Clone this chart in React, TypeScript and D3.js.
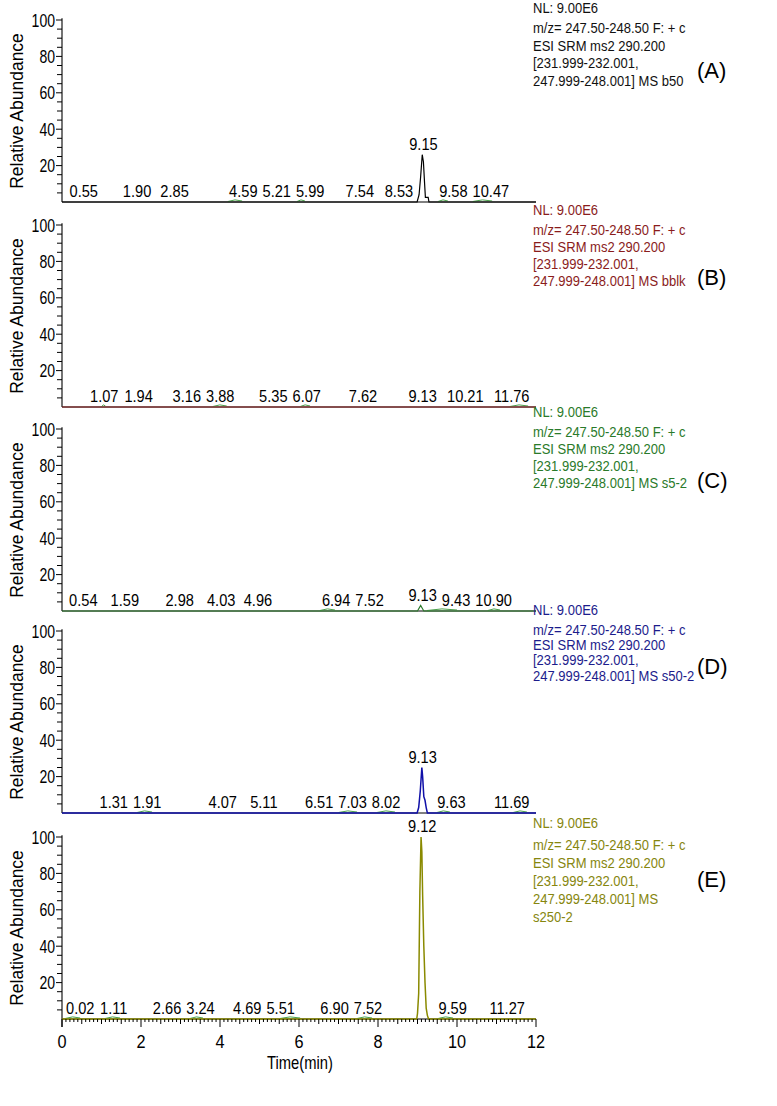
import React from 'react';
import * as d3 from 'd3';

const W = 777;
const H = 1106;

// ---- data ----
const timeTicks = [0, 2, 4, 6, 8, 10, 12];
const abundanceTicks = [20, 40, 60, 80, 100];
const panelIds = ['(A)', '(B)', '(C)', '(D)', '(E)'];

const infoA = ['NL: 9.00E6', 'm/z= 247.50-248.50 F: + c', 'ESI SRM ms2 290.200', '[231.999-232.001,', '247.999-248.001] MS b50'];
const infoB = ['NL: 9.00E6', 'm/z= 247.50-248.50 F: + c', 'ESI SRM ms2 290.200', '[231.999-232.001,', '247.999-248.001] MS bblk'];
const infoC = ['NL: 9.00E6', 'm/z= 247.50-248.50 F: + c', 'ESI SRM ms2 290.200', '[231.999-232.001,', '247.999-248.001] MS s5-2'];
const infoD = ['NL: 9.00E6', 'm/z= 247.50-248.50 F: + c', 'ESI SRM ms2 290.200', '[231.999-232.001,', '247.999-248.001] MS s50-2'];
const infoE = ['NL: 9.00E6', 'm/z= 247.50-248.50 F: + c', 'ESI SRM ms2 290.200', '[231.999-232.001,', '247.999-248.001] MS', 's250-2'];

// trace points: [time (min), relative abundance (%)]
const traceA: [number, number][] = [[0, 0], [8.99, 0], [9.04, 4], [9.08, 14], [9.12, 26], [9.15, 22], [9.18, 10], [9.2, 2.5], [9.27, 2.5], [9.29, 0], [12, 0]];
const traceB: [number, number][] = [[0, 0], [12, 0]];
const traceC: [number, number][] = [[0, 0], [9.0, 0], [9.08, 3], [9.16, 0], [12, 0]];
const traceD: [number, number][] = [[0, 0], [8.99, 0], [9.03, 3], [9.07, 12], [9.11, 25], [9.13, 20], [9.16, 9], [9.19, 7], [9.22, 3], [9.25, 0], [12, 0]];
const traceE: [number, number][] = [[0, 0], [8.98, 0], [9.0, 3], [9.03, 14], [9.06, 70], [9.09, 100], [9.11, 92], [9.13, 68], [9.16, 40], [9.19, 20], [9.22, 6], [9.25, 2], [9.28, 0], [12, 0]];

// retention-time labels
const labelsA = ['0.55', '1.90', '2.85', '4.59', '5.21', '5.99', '7.54', '8.53', '9.15', '9.58', '10.47'];
const labelsB = ['1.07', '1.94', '3.16', '3.88', '5.35', '6.07', '7.62', '9.13', '10.21', '11.76'];
const labelsC = ['0.54', '1.59', '2.98', '4.03', '4.96', '6.94', '7.52', '9.13', '9.43', '10.90'];
const labelsD = ['1.31', '1.91', '4.07', '5.11', '6.51', '7.03', '8.02', '9.13', '9.63', '11.69'];
const labelsE = ['0.02', '1.11', '2.66', '3.24', '4.69', '5.51', '6.90', '7.52', '9.12', '9.59', '11.27'];

// small integration baselines [start, end] (min)
const marksA: [number, number][] = [[4.2, 4.56], [5.95, 6.15], [9.52, 9.77], [10.4, 10.89]];
const marksB: [number, number][] = [[1.0, 1.1], [3.82, 4.17], [6.03, 6.28], [11.34, 11.8]];
const marksC: [number, number][] = [[6.53, 6.91], [9.24, 10.0], [10.78, 11.09]];
const marksD: [number, number][] = [[1.9, 2.28], [7.0, 7.47], [7.97, 8.43], [9.49, 9.82], [11.42, 11.77]];
const marksE: [number, number][] = [[0.08, 0.46], [1.09, 1.47], [3.24, 3.57], [5.52, 6.03], [7.47, 7.85], [9.52, 9.9]];

// ---- styling/layout ----
const FONT = '"Liberation Sans", Arial, Helvetica, sans-serif';
const colors = ['#111111', '#8a1c1c', '#2a7a2a', '#1c1c8c', '#86860e'];
const traceColors = ['#000000', '#8a1c1c', '#2a7a2a', '#1010a8', '#8a8a00'];
const markColor = '#4aa04a';
const panelTops = [20, 225, 429, 631, 837];
const panelH = 182;
const infoOffsets = [
  { nl: -7, first: 13, step: 17.5, id: 50 },
  { nl: -10, first: 10, step: 17, id: 52 },
  { nl: -12, first: 8, step: 17, id: 51 },
  { nl: -16, first: 4, step: 15.2, id: 35 },
  { nl: -9, first: 13, step: 18, id: 42 },
];

const x = d3.scaleLinear().domain([0, 12]).range([62, 536]);

const panels = [
  { info: infoA, trace: traceA, labels: labelsA, marks: marksA },
  { info: infoB, trace: traceB, labels: labelsB, marks: marksB },
  { info: infoC, trace: traceC, labels: labelsC, marks: marksC },
  { info: infoD, trace: traceD, labels: labelsD, marks: marksD },
  { info: infoE, trace: traceE, labels: labelsE, marks: marksE },
];

const LABEL_FS = 17;
const LABEL_SX = 0.86;
const GAP = 5;
function labelWidth(s: string) {
  let w = 0;
  for (const c of s) w += c === '.' ? 0.278 : 0.556;
  return w * LABEL_FS * LABEL_SX;
}

function layoutLabels(labels: string[], trace: [number, number][], y: d3.ScaleLinear<number, number>) {
  const base = y(0);
  const items = labels.map((s) => {
    const t = parseFloat(s);
    let peak = 0;
    for (const [tt, v] of trace) if (Math.abs(tt - t) <= 0.06) peak = Math.max(peak, v);
    const ly = peak > 2 ? y(peak) - 5 : base - 5;
    return { s, t, cx: x(t), w: labelWidth(s), ly, high: peak > 8, own: peak > 2 };
  });
  // obstacle: main peak footprint
  const big = trace.filter((p) => p[1] > 1);
  const obsL = big.length ? x(big[0][0]) - 2 : Infinity;
  const obsR = big.length ? x(big[big.length - 1][0]) + 11 : -Infinity;
  let prevR = 66 - GAP;
  const low = items.filter((d) => !d.high);
  for (const d of low) {
    let l = d.cx - d.w / 2;
    if (l < prevR + GAP) l = prevR + GAP;
    const r = l + d.w;
    if (!d.own && big.length && r > obsL && l < obsR && d.cx > obsL) l = Math.max(l, obsR);
    d.cx = l + d.w / 2;
    prevR = l + d.w;
  }
  // keep inside right edge
  let limit = x(12) - 6;
  for (let i = low.length - 1; i >= 0; i--) {
    const d = low[i];
    if (d.cx + d.w / 2 > limit) d.cx = limit - d.w / 2;
    limit = d.cx - d.w / 2 - GAP;
  }
  return items;
}

function Panel({ idx }: { idx: number }) {
  const p = panels[idx];
  const top = panelTops[idx];
  const y = d3.scaleLinear().domain([0, 100]).range([top + panelH, top]);
  const base = y(0);
  const line = d3
    .line<[number, number]>()
    .x((d) => x(d[0]))
    .y((d) => y(d[1]));
  const minor = d3.range(5, 101, 5);
  const labs = layoutLabels(p.labels, p.trace, y);
  const off = infoOffsets[idx];
  const isLast = idx === panels.length - 1;
  const col = colors[idx];
  return (
    <g>
      {/* y axis */}
      <line x1={62} x2={62} y1={y(101)} y2={isLast ? base + 8 : base} stroke="#000" strokeWidth={1.1} />
      {minor.map((v) => (
        <line key={v} x1={abundanceTicks.includes(v) ? 56 : 57} x2={62} y1={y(v)} y2={y(v)} stroke="#000" strokeWidth={1} />
      ))}
      {abundanceTicks.map((v) => (
        <text
          key={v}
          transform={`translate(55,${y(v) + 6.5}) scale(0.78,1)`}
          textAnchor="end"
          fontSize={18}
          fontFamily={FONT}
          fill="#000"
        >
          {v}
        </text>
      ))}
      <text
        transform={`translate(23,${(y(100) + base) / 2}) rotate(-90)`}
        textAnchor="middle"
        fontSize={17.5}
        fontFamily={FONT}
        fill="#000"
      >
        Relative Abundance
      </text>
      {/* baseline axis */}
      <line x1={62} x2={x(12)} y1={base} y2={base} stroke="#000" strokeWidth={1} />
      {/* integration marks */}
      {p.marks.map(([a, b], i) => (
        <path
          key={i}
          d={`M${x(a)},${base - 0.5} Q${(x(a) + x(b)) / 2},${base - 3.5} ${x(b)},${base - 1}`}
          fill="none"
          stroke={markColor}
          strokeWidth={1}
        />
      ))}
      {/* trace */}
      <path d={line(p.trace) || ''} fill="none" stroke={traceColors[idx]} strokeWidth={idx >= 3 ? 1.5 : 1.2} />
      {/* peak labels */}
      {labs.map((d) => (
        <text
          key={d.s}
          transform={`translate(${d.cx},${d.ly}) scale(${LABEL_SX},1)`}
          textAnchor="middle"
          fontSize={LABEL_FS}
          fontFamily={FONT}
          fill="#000"
        >
          {d.s}
        </text>
      ))}
      {/* info block */}
      {p.info.map((s, i) => (
        <text
          key={i}
          transform={`translate(533,${i === 0 ? top + off.nl : top + off.first + (i - 1) * off.step}) scale(0.84,1)`}
          fontSize={15.5}
          fontFamily={FONT}
          fill={col}
        >
          {s}
        </text>
      ))}
      <text x={697} y={top + off.id + 8} fontSize={22} fontFamily={FONT} fill="#000">
        {panelIds[idx]}
      </text>
    </g>
  );
}

function TimeAxis() {
  const top = panelTops[panelTops.length - 1];
  const base = top + panelH;
  const small = d3.range(0, 121).map((i) => i / 10);
  return (
    <g>
      {small.map((t, i) => {
        const len = i % 20 === 0 ? 8 : i % 5 === 0 ? 5 : 3;
        return <line key={i} x1={x(t)} x2={x(t)} y1={base} y2={base + len} stroke="#000" strokeWidth={1} />;
      })}
      {timeTicks.map((t) => (
        <text
          key={t}
          transform={`translate(${x(t)},${base + 29}) scale(0.88,1)`}
          textAnchor="middle"
          fontSize={18.5}
          fontFamily={FONT}
          fill="#000"
        >
          {t}
        </text>
      ))}
      <text
        transform={`translate(300,${base + 50}) scale(0.82,1)`}
        textAnchor="middle"
        fontSize={18}
        fontFamily={FONT}
        fill="#000"
      >
        Time(min)
      </text>
    </g>
  );
}

export default function App() {
  return (
    <svg
      width={W}
      height={H}
      viewBox={`0 0 ${W} ${H}`}
      style={{ position: 'absolute', left: 0, top: 0, background: '#fff' }}
    >
      <rect width={W} height={H} fill="#fff" />
      {panels.map((_, i) => (
        <Panel key={i} idx={i} />
      ))}
      <TimeAxis />
    </svg>
  );
}
